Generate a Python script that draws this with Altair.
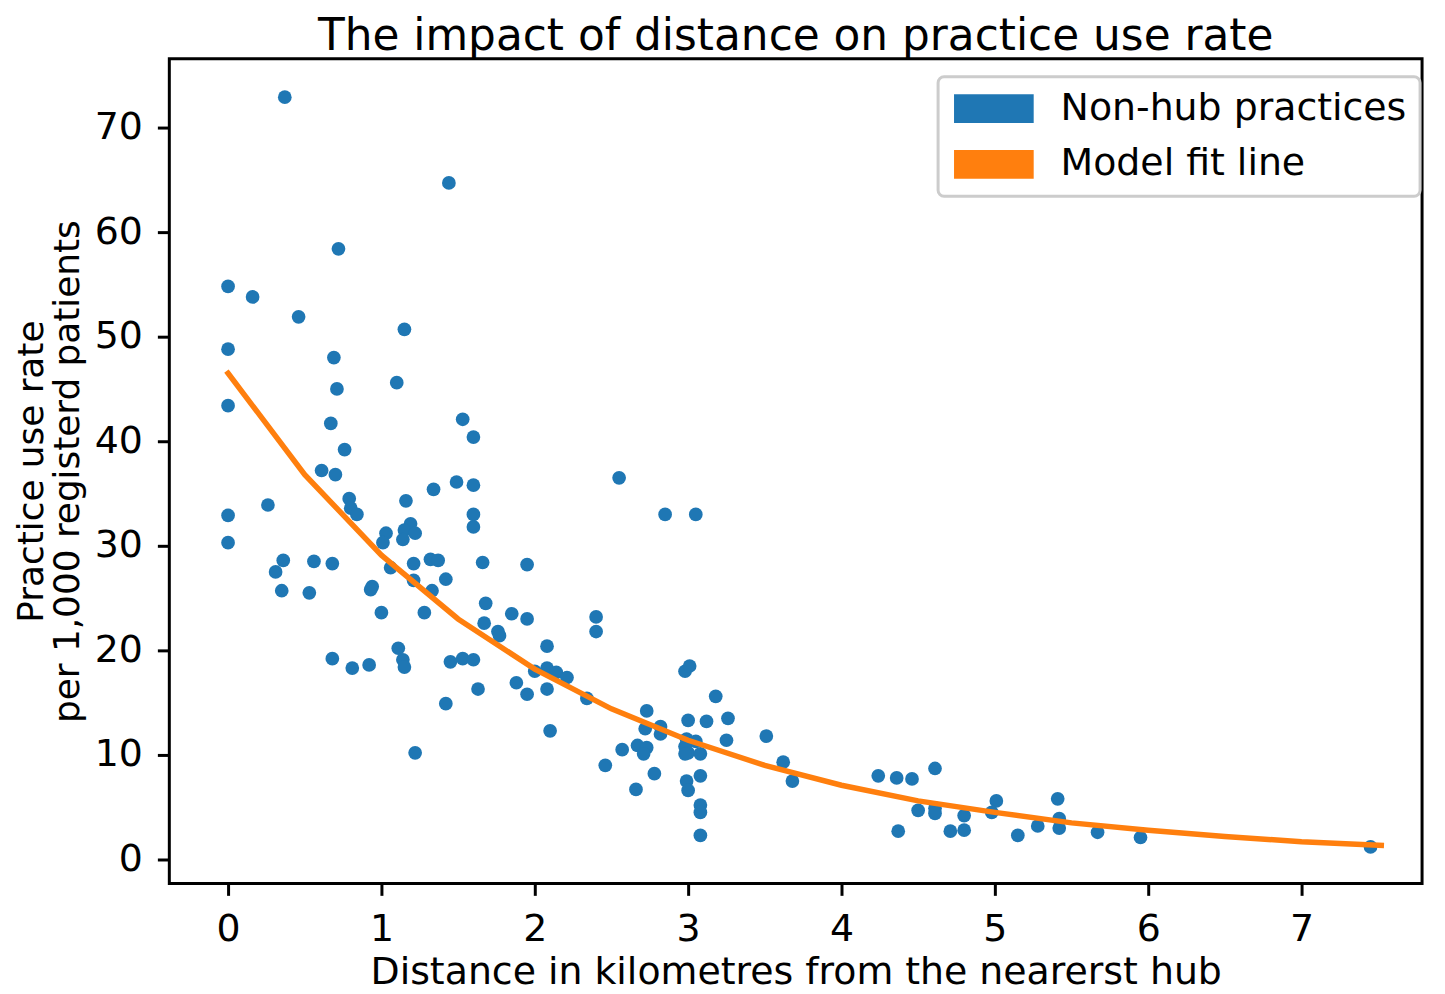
import altair as alt
import pandas as pd

# ---- data ----
dist_km = [
    0.37, 1.44, 0.72, 0.00, 0.16, 0.46, 1.15, 0.00, 0.69, 1.10, 0.71, 0.00, 1.53, 1.60, 0.67, 0.76,
    0.61, 0.70, 2.55, 1.49, 1.60, 1.34, 0.79, 1.16, 0.26, 0.80, 0.84, 0.00, 2.85, 3.05, 1.60, 1.60,
    1.19, 1.15, 1.22, 1.14, 1.03, 1.01, 0.00,
    0.36, 0.31, 0.35, 0.56, 0.68, 0.53, 1.66, 1.06, 1.21, 1.32, 1.37, 1.21, 1.42, 1.33, 0.94, 0.93,
    1.00, 1.28, 1.95, 1.68, 1.85, 1.95, 2.40, 2.40, 1.67, 1.76, 1.77, 2.08, 1.11, 1.14, 1.15, 0.68,
    0.81, 0.92, 1.45, 1.53, 1.60, 2.00, 2.08, 2.14, 2.21, 2.98, 3.01, 1.88, 2.08, 1.63, 1.95, 2.34,
    1.42,
    3.18, 2.73, 3.00, 3.12, 3.26, 2.72, 2.82, 2.82, 2.10, 3.51, 3.25, 2.99, 3.05, 2.98, 3.00, 2.98,
    3.08, 2.57, 2.67, 2.73, 2.71, 1.22, 2.46, 3.62, 3.68, 2.78, 3.08, 2.99, 3.00, 2.66, 3.08, 3.08,
    3.08,
    4.24, 4.36, 4.46, 4.61, 4.50, 4.61, 4.61, 4.37, 4.71, 4.80, 4.80, 5.01, 4.98, 5.15, 5.28, 5.41,
    5.42, 5.42, 5.67, 5.95, 7.45,
]
use_rate = [
    72.9, 64.7, 58.4, 54.8, 53.8, 51.9, 50.7, 48.8, 48.0, 45.6, 45.0, 43.4, 42.1, 40.4, 41.7, 39.2,
    37.2, 36.8, 36.5, 36.1, 35.8, 35.4, 34.5, 34.3, 33.9, 33.6, 33.0, 32.9, 33.0, 33.0, 33.0, 31.8,
    32.1, 31.5, 31.2, 30.6, 31.2, 30.3, 30.3,
    28.6, 27.5, 25.7, 28.5, 28.3, 25.5, 28.4, 27.9, 28.3, 28.7, 28.6, 26.7, 26.8, 25.7, 26.1, 25.8,
    23.6, 23.6, 28.2, 24.5, 23.5, 23.0, 23.2, 21.8, 22.6, 21.8, 21.4, 20.4, 20.2, 19.1, 18.4, 19.2,
    18.3, 18.6, 18.9, 19.2, 19.1, 18.0, 18.3, 17.9, 17.4, 18.0, 18.5, 16.9, 16.3, 16.3, 15.8, 15.4,
    14.9,
    15.6, 14.2, 13.3, 13.2, 13.5, 12.5, 12.7, 12.0, 12.3, 11.8, 11.4, 11.5, 11.3, 10.8, 10.2, 10.1,
    10.1, 10.5, 10.9, 10.7, 10.1, 10.2, 9.0, 9.3, 7.5, 8.2, 8.0, 7.5, 6.6, 6.7, 5.2, 4.5,
    2.3,
    8.0, 7.8, 7.7, 8.7, 4.7, 4.9, 4.4, 2.7, 2.7, 2.8, 4.2, 5.6, 4.5, 2.3, 3.2, 5.8,
    3.9, 3.0, 2.6, 2.1, 1.2,
]
fit_x = [0.0, 0.5, 1.0, 1.5, 2.0, 2.5, 3.0, 3.5, 4.0, 4.5, 5.0, 5.5, 6.0, 6.5, 7.0, 7.52]
fit_y = [46.5, 36.8, 29.1, 23.0, 18.2, 14.4, 11.4, 9.0, 7.1, 5.6, 4.5, 3.5, 2.8, 2.2, 1.7, 1.35]

series_names = ["Non-hub practices", "Model fit line"]
series_colors = ["#1f77b4", "#ff7f0e"]
x_ticks = [0, 1, 2, 3, 4, 5, 6, 7]
y_ticks = [0, 10, 20, 30, 40, 50, 60, 70]

pts = pd.DataFrame({"distance": dist_km, "rate": use_rate, "series": series_names[0]})
fit = pd.DataFrame({"distance": fit_x, "rate": fit_y})

FONT = "DejaVu Sans"

xscale = alt.Scale(domain=[-0.383, 7.786], nice=False, zero=False)
yscale = alt.Scale(domain=[-2.29, 76.57], nice=False, zero=False)

xaxis = alt.Axis(title="Distance in kilometres from the nearerst hub", values=x_ticks, format="d",
                 titlePadding=6)
yaxis = alt.Axis(title=["Practice use rate", "per 1,000 registerd patients"], values=y_ticks,
                 format="d", titlePadding=8, titleLineHeight=36, titleFontSize=36)

# wide rectangle patch (80 x 29 px) drawn with a small nominal symbol size
rect_path = "M-2.6667,-0.9667L2.6667,-0.9667L2.6667,0.9667L-2.6667,0.9667Z"

points = alt.Chart(pts).mark_circle(size=190, opacity=1).encode(
    x=alt.X("distance:Q", scale=xscale, axis=xaxis),
    y=alt.Y("rate:Q", scale=yscale, axis=yaxis),
    color=alt.Color(
        "series:N",
        scale=alt.Scale(domain=series_names, range=series_colors),
        legend=alt.Legend(
            title=None, orient="none", legendX=772, legendY=18,
            symbolType=rect_path, symbolSize=900, symbolStrokeWidth=0, symbolOpacity=1,
            symbolOffset=24,
            labelFont=FONT, labelFontSize=38, labelColor="black", labelOffset=48,
            padding=13, rowPadding=18, strokeColor="#cccccc", fillColor="white",
            cornerRadius=6, labelLimit=600,
        ),
    ),
)

line = alt.Chart(fit).mark_line(color=series_colors[1], strokeWidth=5.5, strokeCap="square").encode(
    x=alt.X("distance:Q", scale=xscale),
    y=alt.Y("rate:Q", scale=yscale),
)

chart = (
    alt.layer(points, line)
    .properties(
        width=1258, height=828,
        autosize=alt.AutoSizeParams(type="none"),
        padding={"left": 162, "top": 49, "right": 15, "bottom": 108},
        title=alt.TitleParams(
            "The impact of distance on practice use rate", font=FONT, fontSize=44,
            fontWeight="normal", color="black", anchor="middle", offset=0,
        ),
    )
    .configure_view(stroke="black", strokeWidth=3)
    .configure_axis(
        grid=False, domain=False, ticks=True, tickColor="black", tickWidth=3, tickSize=12,
        labelFont=FONT, labelFontSize=38, labelColor="black", labelPadding=15,
        titleFont=FONT, titleFontSize=38, titleFontWeight="normal", titleColor="black",
    )
    .configure_legend(strokeWidth=3)
)

chart.save("out.html", embed_options={"renderer": "svg", "actions": False})
